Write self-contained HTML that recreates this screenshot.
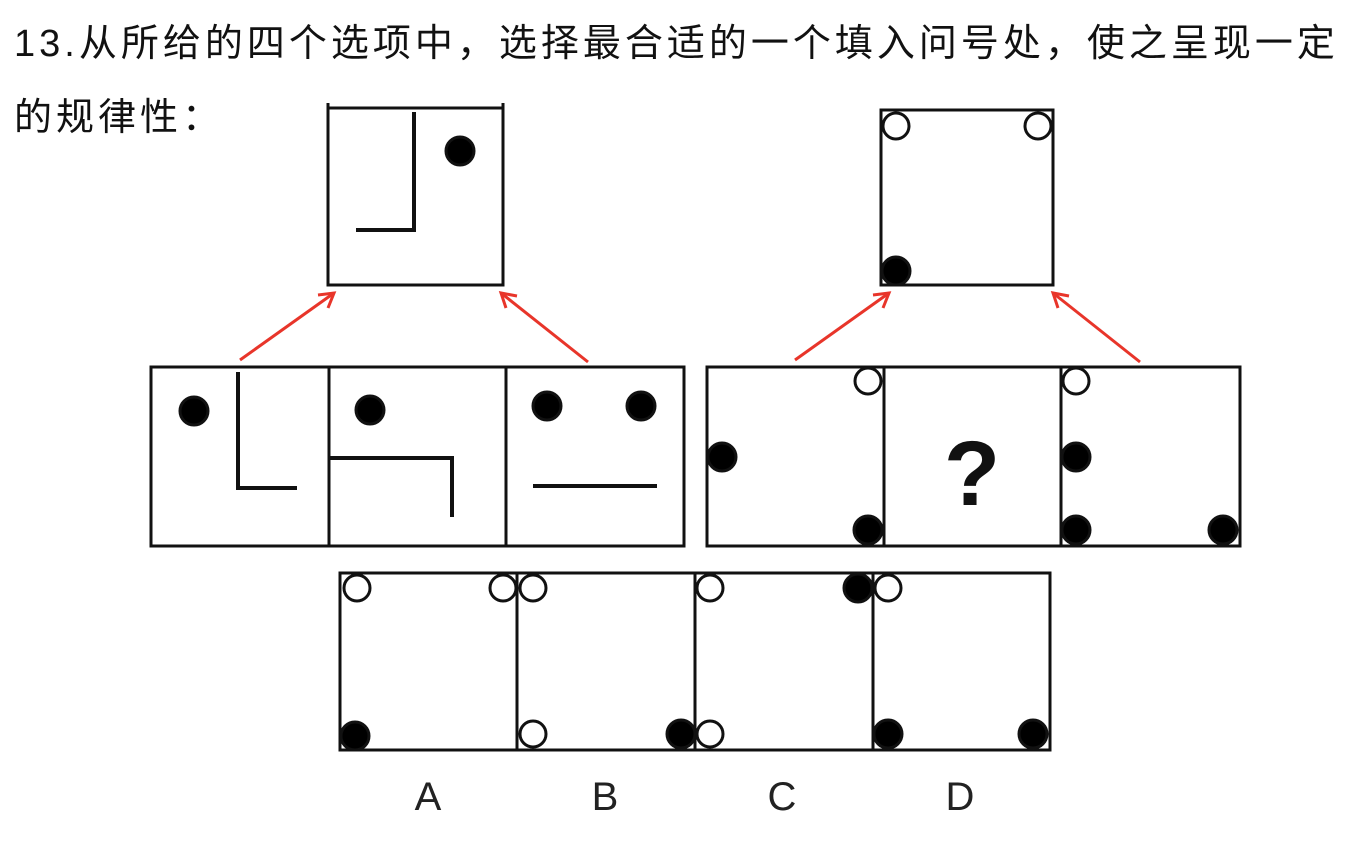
<!DOCTYPE html>
<html><head><meta charset="utf-8"><style>
html,body{margin:0;padding:0;background:#fff;width:1360px;height:844px;overflow:hidden}
.t{position:absolute;left:14px;font-family:"Liberation Sans","Noto Sans CJK SC",sans-serif;font-size:38px;color:#111;white-space:nowrap;letter-spacing:4px}
</style></head><body>
<div class="t" style="top:12px">13.从所给的四个选项中，选择最合适的一个填入问号处，使之呈现一定</div>
<div class="t" style="top:86px">的规律性：</div>
<svg width="1360" height="844" style="position:absolute;left:0;top:0">
<g stroke="#111" stroke-width="3" fill="none">
<g>
<rect x="328" y="108" width="175" height="177"/>
<line x1="328" y1="103" x2="328" y2="108"/><line x1="503" y1="103" x2="503" y2="108"/>
<polyline points="414,112 414,230 356,230" stroke-width="4"/>
<circle cx="460" cy="151" r="14" fill="#000"/>
</g>
<g>
<rect x="881" y="110" width="172" height="175"/>
<circle cx="896" cy="126" r="13" fill="#fff"/>
<circle cx="1038" cy="126" r="13" fill="#fff"/>
<circle cx="896" cy="271" r="14" fill="#000"/>
</g>
<g>
<rect x="151" y="367" width="533" height="179"/>
<line x1="329" y1="367" x2="329" y2="546"/><line x1="506" y1="367" x2="506" y2="546"/>
<circle cx="194" cy="411" r="14" fill="#000"/>
<polyline points="238,372 238,488 297,488" stroke-width="4"/>
<circle cx="370" cy="410" r="14" fill="#000"/>
<polyline points="330,458 452,458 452,517" stroke-width="4"/>
<circle cx="547" cy="406" r="14" fill="#000"/>
<circle cx="641" cy="406" r="14" fill="#000"/>
<line x1="533" y1="486" x2="657" y2="486" stroke-width="4"/>
</g>
<g>
<rect x="707" y="367" width="533" height="179"/>
<line x1="884" y1="367" x2="884" y2="546"/><line x1="1061" y1="367" x2="1061" y2="546"/>
<circle cx="722" cy="457" r="14" fill="#000"/>
<circle cx="868" cy="381" r="13" fill="#fff"/>
<circle cx="868" cy="530" r="14" fill="#000"/>
<circle cx="1076" cy="381" r="13" fill="#fff"/>
<circle cx="1076" cy="457" r="14" fill="#000"/>
<circle cx="1076" cy="530" r="14" fill="#000"/>
<circle cx="1223" cy="530" r="14" fill="#000"/>
</g>
<g>
<rect x="340" y="573" width="710" height="177"/>
<line x1="517" y1="573" x2="517" y2="750"/><line x1="695" y1="573" x2="695" y2="750"/><line x1="873" y1="573" x2="873" y2="750"/>
<circle cx="357" cy="588" r="13" fill="#fff"/><circle cx="503" cy="588" r="13" fill="#fff"/><circle cx="355" cy="736" r="14" fill="#000"/>
<circle cx="533" cy="588" r="13" fill="#fff"/><circle cx="533" cy="734" r="13" fill="#fff"/><circle cx="681" cy="734" r="14" fill="#000"/>
<circle cx="710" cy="588" r="13" fill="#fff"/><circle cx="858" cy="588" r="14" fill="#000"/><circle cx="710" cy="734" r="13" fill="#fff"/>
<circle cx="888" cy="588" r="13" fill="#fff"/><circle cx="888" cy="734" r="14" fill="#000"/><circle cx="1033" cy="734" r="14" fill="#000"/>
</g>
</g>
<g stroke="#e8352a" stroke-width="3" fill="none">
<line x1="240" y1="360" x2="334" y2="293"/><polyline points="318,295 334,293 328,308"/>
<line x1="588" y1="362" x2="501" y2="293"/><polyline points="506,308 501,293 517,296"/>
<line x1="795" y1="360" x2="889" y2="293"/><polyline points="873,295 889,293 883,308"/>
<line x1="1140" y1="362" x2="1053" y2="293"/><polyline points="1058,308 1053,293 1069,296"/>
</g>
<text x="972" y="505" text-anchor="middle" font-family="Liberation Sans,sans-serif" font-size="92" font-weight="bold" fill="#111">?</text>
<g font-family="Liberation Sans,sans-serif" font-size="40" fill="#222" text-anchor="middle">
<text x="428" y="810">A</text>
<text x="605" y="810">B</text>
<text x="782" y="810">C</text>
<text x="960" y="810">D</text>
</g>
</svg>
</body></html>
